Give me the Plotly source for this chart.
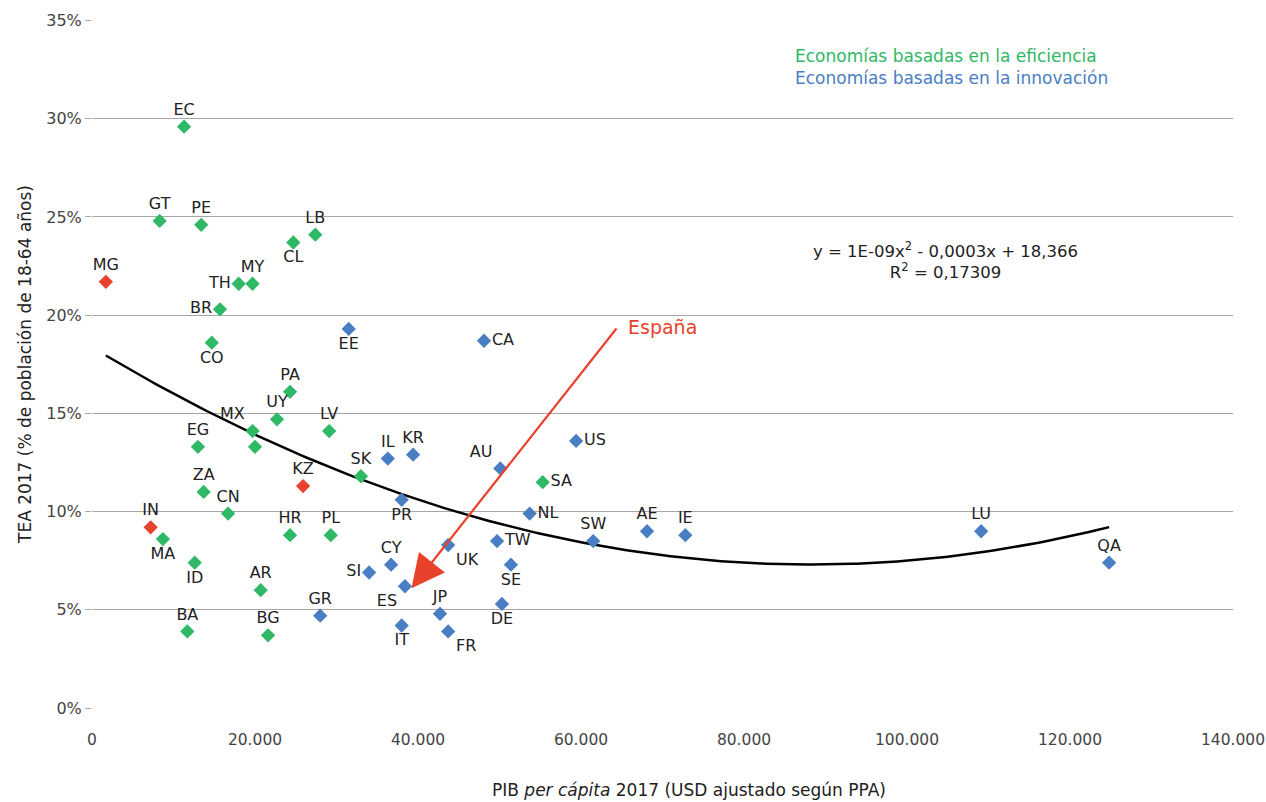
import numpy as np
import plotly.graph_objects as go

# ==================== Data ====================
# Economías basadas en la eficiencia (verde)
eff_codes = ["EC", "GT", "PE", "LB", "CL", "TH", "MY", "BR", "CO", "PA", "UY", "MX", "",
             "LV", "EG", "SK", "ZA", "CN", "MA", "HR", "PL", "ID", "AR", "BA", "BG", "SA"]
eff_gdp = [11300, 8300, 13400, 27400, 24700, 18000, 19700, 15700, 14700, 24300, 22700, 19700, 20000,
           29100, 13000, 33000, 13700, 16700, 8700, 24300, 29300, 12600, 20700, 11700, 21600, 55300]
eff_tea = [29.6, 24.8, 24.6, 24.1, 23.7, 21.6, 21.6, 20.3, 18.6, 16.1, 14.7, 14.1, 13.3,
           14.1, 13.3, 11.8, 11.0, 9.9, 8.6, 8.8, 8.8, 7.4, 6.0, 3.9, 3.7, 11.5]

# Economías basadas en la innovación (azul)
inn_codes = ["EE", "CA", "US", "IL", "KR", "AU", "PR", "NL", "AE", "IE", "LU", "SW", "TW",
             "UK", "QA", "CY", "SE", "SI", "ES", "GR", "JP", "DE", "IT", "FR"]
inn_gdp = [31500, 48100, 59400, 36300, 39400, 50100, 38000, 53700, 68100, 72800, 109100, 61500, 49700,
           43700, 124800, 36700, 51400, 34000, 38400, 28000, 42700, 50300, 38000, 43700]
inn_tea = [19.3, 18.7, 13.6, 12.7, 12.9, 12.2, 10.6, 9.9, 9.0, 8.8, 9.0, 8.5, 8.5,
           8.3, 7.4, 7.3, 7.3, 6.9, 6.2, 4.7, 4.8, 5.3, 4.2, 3.9]

# Otras economías (rojo)
oth_codes = ["MG", "KZ", "IN"]
oth_gdp = [1700, 25900, 7200]
oth_tea = [21.7, 11.3, 9.2]

# Ejes
y_ticks = [0, 5, 10, 15, 20, 25, 30, 35]
y_ticklabels = ["0%", "5%", "10%", "15%", "20%", "25%", "30%", "35%"]

# ==================== Label positions ====================
label_pos = {
    "EC": "top center", "GT": "top center", "PE": "top center", "LB": "top center",
    "CL": "bottom center", "TH": "middle left", "MY": "top center", "BR": "middle left",
    "CO": "bottom center", "PA": "top center", "UY": "top center", "MX": "top left",
    "LV": "top center", "EG": "top center", "SK": "top center", "ZA": "top center",
    "CN": "top center", "MA": "bottom center", "HR": "top center", "PL": "top center",
    "ID": "bottom center", "AR": "top center", "BA": "top center", "BG": "top center",
    "SA": "middle right", "EE": "bottom center", "CA": "middle right", "US": "middle right",
    "IL": "top center", "KR": "top center", "AU": "top left", "PR": "bottom center",
    "NL": "middle right", "AE": "top center", "IE": "top center", "LU": "top center",
    "SW": "top center", "TW": "middle right", "UK": "bottom right", "QA": "top center",
    "CY": "top center", "SE": "bottom center", "SI": "middle left", "ES": "bottom left",
    "GR": "top center", "JP": "top center", "DE": "bottom center", "IT": "bottom center",
    "FR": "bottom right", "MG": "top center", "KZ": "top center", "IN": "top center",
}

GREEN = "#2fb865"
BLUE = "#4a7ec3"
RED = "#e8412c"
FONT = "DejaVu Sans"

fig = go.Figure()

# ==================== Trend line (polynomial, order 2) ====================
all_x = np.array(eff_gdp + inn_gdp + oth_gdp, dtype=float)
all_y = np.array(eff_tea + inn_tea + oth_tea, dtype=float)
coef = np.polyfit(all_x, all_y, 2)
xs = np.linspace(all_x.min(), all_x.max(), 200)
fig.add_trace(go.Scatter(x=xs, y=np.polyval(coef, xs), mode="lines",
                         line=dict(color="black", width=2.5), hoverinfo="skip"))

# ==================== Scatter groups ====================
for codes, gx, gy, color in [(eff_codes, eff_gdp, eff_tea, GREEN),
                             (inn_codes, inn_gdp, inn_tea, BLUE),
                             (oth_codes, oth_gdp, oth_tea, RED)]:
    fig.add_trace(go.Scatter(
        x=gx, y=gy, mode="markers+text", text=codes,
        textposition=[label_pos.get(c, "top center") for c in codes],
        textfont=dict(family=FONT, size=16, color="#222222"),
        marker=dict(symbol="diamond", size=11, color=color),
        cliponaxis=False,
    ))

# ==================== Annotations ====================
fig.add_annotation(x=39200, y=6.1, ax=64500, ay=19.4, xref="x", yref="y", axref="x", ayref="y",
                   showarrow=True, arrowhead=2, arrowsize=3, arrowwidth=2.2, arrowcolor=RED, text="")
fig.add_annotation(x=65500, y=19.4, xref="x", yref="y", text="España", showarrow=False,
                   xanchor="left", yanchor="middle", font=dict(family=FONT, size=19, color=RED))
fig.add_annotation(x=0.614, y=0.932, xref="paper", yref="paper", showarrow=False,
                   xanchor="left", yanchor="middle",
                   text="<span style='color:%s'>Economías basadas en la eficiencia</span><br>"
                        "<span style='color:%s'>Economías basadas en la innovación</span>" % (GREEN, BLUE),
                   font=dict(family=FONT, size=17), align="left")
fig.add_annotation(x=0.748, y=0.650, xref="paper", yref="paper", showarrow=False,
                   xanchor="center", yanchor="middle",
                   text="y = 1E-09x<sup>2</sup> - 0,0003x + 18,366<br>R<sup>2</sup> = 0,17309",
                   font=dict(family=FONT, size=16.5, color="#222222"), align="center")
# x-axis title (offset to the right as in the original)
fig.add_annotation(x=0.523, y=-0.119, xref="paper", yref="paper", showarrow=False,
                   xanchor="center", yanchor="middle",
                   text="PIB <i>per cápita</i> 2017 (USD ajustado según PPA)",
                   font=dict(family=FONT, size=17, color="#222222"))

# ==================== Layout Settings ====================
fig.update_layout(
    width=1266, height=802,
    margin=dict(l=92, r=33, t=20, b=94),
    plot_bgcolor="white", paper_bgcolor="white",
    showlegend=False,
    separators=",.",
    font=dict(family=FONT, size=16, color="#444444"),
    xaxis=dict(range=[0, 140000], dtick=20000, tickformat=",", showgrid=False, zeroline=False,
               showline=False, ticks="", ticklabelstandoff=20, automargin=False,
               ticklabeloverflow="allow", tickfont=dict(size=15.5)),
    yaxis=dict(range=[0, 35.03], tickvals=y_ticks, ticktext=y_ticklabels,
               showgrid=True, gridcolor="#a6a6a6",
               gridwidth=1, zeroline=False, ticks="outside", ticklen=6, tickcolor="#a6a6a6",
               automargin=False, tickfont=dict(size=16),
               title=dict(text="TEA 2017 (% de población de 18-64 años)",
                          font=dict(family=FONT, size=17, color="#222222"), standoff=10)),
)

fig.write_html("out.html", config={"displayModeBar": False},
               post_script="document.body.style.margin='0px';")
